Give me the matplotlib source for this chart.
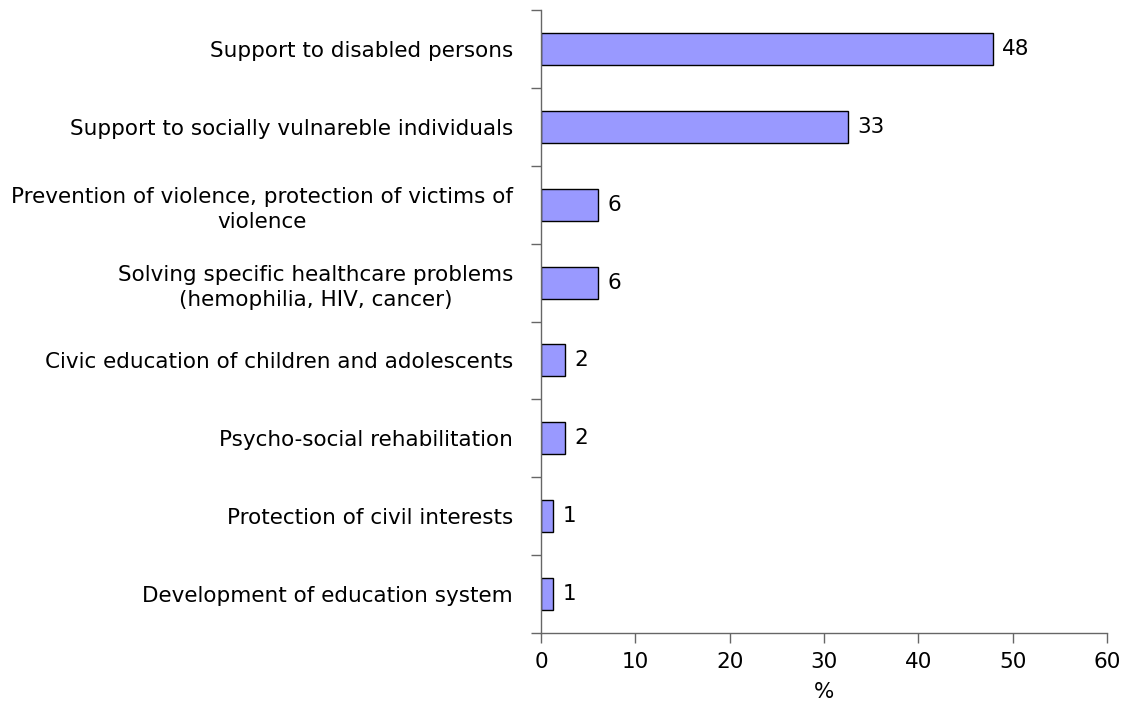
import matplotlib
matplotlib.use("Agg")
import matplotlib.pyplot as plt
import numpy as np

# --- DATA ---
categories = [
    "Support to disabled persons",
    "Support to socially vulnareble individuals",
    "Prevention of violence, protection of victims of\nviolence",
    "Solving specific healthcare problems\n(hemophilia, HIV, cancer)",
    "Civic education of children and adolescents",
    "Psycho-social rehabilitation",
    "Protection of civil interests",
    "Development of education system",
]
values = [47.9, 32.5, 6.0, 6.0, 2.5, 2.5, 1.3, 1.3]
value_labels = ["48", "33", "6", "6", "2", "2", "1", "1"]
x_ticks = [0, 10, 20, 30, 40, 50, 60]
x_label = "%"

BAR_COLOR = "#9999ff"
AXIS_COLOR = "#666666"
FS = 15.5

plt.rcParams["font.family"] = ["DejaVu Sans"]

fig = plt.figure(figsize=(11.29, 7.01), dpi=100)
ax = fig.add_axes([541 / 1129, 1 - 633 / 701, (1107 - 541) / 1129, (633 - 10) / 701])

n = len(categories)
ypos = np.arange(n)[::-1]
bars = ax.barh(ypos, values, height=0.41, color=BAR_COLOR, edgecolor="black", linewidth=1.0)

# value labels just right of each bar
for bar, lab in zip(bars, value_labels):
    ax.text(bar.get_width() + 1.0, bar.get_y() + bar.get_height() / 2, lab,
            ha="left", va="center", fontsize=FS, color="black")

ax.set_xlim(0, 60)
ax.set_ylim(-0.5, n - 0.5)
ax.set_xticks(x_ticks)
ax.set_xticklabels([str(t) for t in x_ticks], fontsize=FS)
ax.set_xlabel(x_label, fontsize=FS, labelpad=7)

# category labels at bar centres, tick marks between categories
ax.set_yticks(ypos)
ax.set_yticklabels(categories, fontsize=FS, multialignment="center", linespacing=1.35)
ax.set_yticks(np.arange(n + 1) - 0.5, minor=True)
ax.tick_params(axis="y", which="major", length=0, pad=20)
ax.tick_params(axis="y", which="minor", length=7, color=AXIS_COLOR, width=1.0)
ax.tick_params(axis="x", which="major", length=7, color=AXIS_COLOR, width=1.0, pad=7)

for side in ["top", "right"]:
    ax.spines[side].set_visible(False)
for side in ["left", "bottom"]:
    ax.spines[side].set_color(AXIS_COLOR)
    ax.spines[side].set_linewidth(1.0)

fig.savefig("out.png", dpi=100, facecolor="white")
